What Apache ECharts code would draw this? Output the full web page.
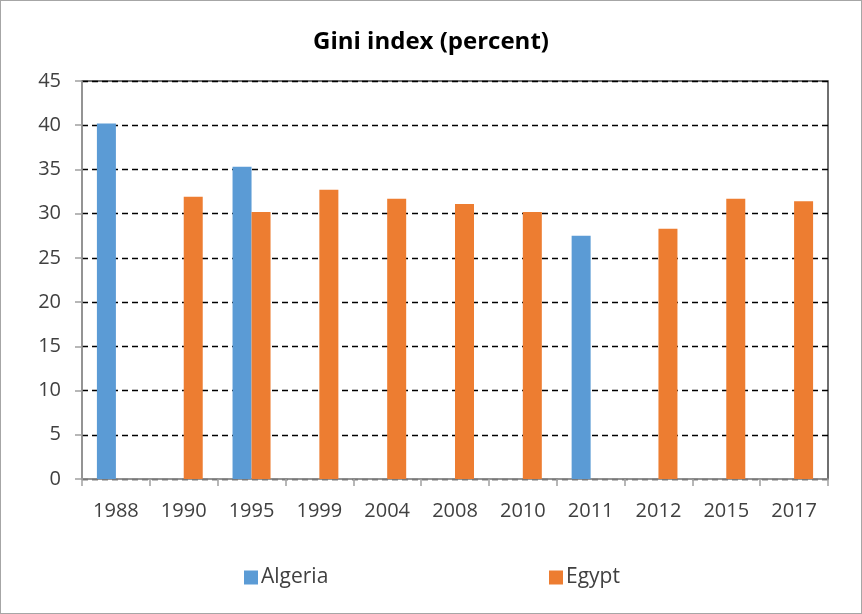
<!DOCTYPE html>
<html>
<head>
<meta charset="utf-8">
<script src="https://cdn.jsdelivr.net/npm/echarts@6/dist/echarts.min.js"></script>
<style>
  html, body { margin: 0; padding: 0; background: #fff; }
  #chart { width: 860px; height: 612px; border: 1px solid #a6a6a6; }
</style>
</head>
<body>
<div id="chart"></div>
<script>
var years = ['1988', '1990', '1995', '1999', '2004', '2008', '2010', '2011', '2012', '2015', '2017']
var algeria = [40.2, null, 35.3, null, null, null, null, 27.5, null, null, null]
var egypt = [null, 31.9, 30.2, 32.7, 31.7, 31.1, 30.2, null, 28.3, 31.7, 31.4]

var chart = echarts.init(document.getElementById('chart'))
var font = '"Open Sans", Lato, sans-serif'
var option = {
  animation: false,
  textStyle: { fontFamily: font },
  title: {
    text: 'Gini index (percent)',
    left: 'center',
    top: 24,
    textStyle: { fontFamily: font, fontSize: 24, fontWeight: 'bold', color: '#000' }
  },
  legend: [
    {
      data: ['Algeria'],
      left: 243,
      top: 566,
      padding: 0,
      itemWidth: 14,
      itemHeight: 14,
      icon: 'rect',
      textStyle: { fontFamily: font, fontSize: 21, color: '#404040', padding: [0, 0, 0, -2] }
    },
    {
      data: ['Egypt'],
      left: 548,
      top: 566,
      padding: 0,
      itemWidth: 14,
      itemHeight: 14,
      icon: 'rect',
      textStyle: { fontFamily: font, fontSize: 21, color: '#404040', padding: [0, 0, 0, -2] }
    }
  ],
  grid: { left: 81, right: 33, top: 80, bottom: 134, show: true, borderColor: '#404040', borderWidth: 1.5 },
  xAxis: {
    type: 'category',
    data: years,
    axisLine: { lineStyle: { color: '#a0a0a0', width: 1.5 } },
    axisTick: { show: true, length: 7, lineStyle: { color: '#a0a0a0', width: 1.5 } },
    axisLabel: { color: '#404040', fontSize: 20, margin: 22, fontFamily: font }
  },
  yAxis: {
    type: 'value',
    min: 0,
    max: 45,
    interval: 5,
    axisLine: { show: true, lineStyle: { color: '#a0a0a0', width: 1.5 } },
    axisTick: { show: true, length: 7, lineStyle: { color: '#a0a0a0', width: 1.5 } },
    axisLabel: { color: '#404040', fontSize: 20, margin: 21, fontFamily: font },
    splitLine: { lineStyle: { color: '#000', type: [6, 4], width: 1.3 } }
  },
  series: [
    {
      name: 'Algeria',
      type: 'bar',
      data: algeria,
      barWidth: 19,
      barGap: '0%',
      itemStyle: { color: '#5b9bd5' }
    },
    {
      name: 'Egypt',
      type: 'bar',
      data: egypt,
      barWidth: 19,
      barGap: '0%',
      itemStyle: { color: '#ed7d31' }
    }
  ]
}
chart.setOption(option)
window.addEventListener('resize', function () { chart.resize() })
</script>
</body>
</html>
